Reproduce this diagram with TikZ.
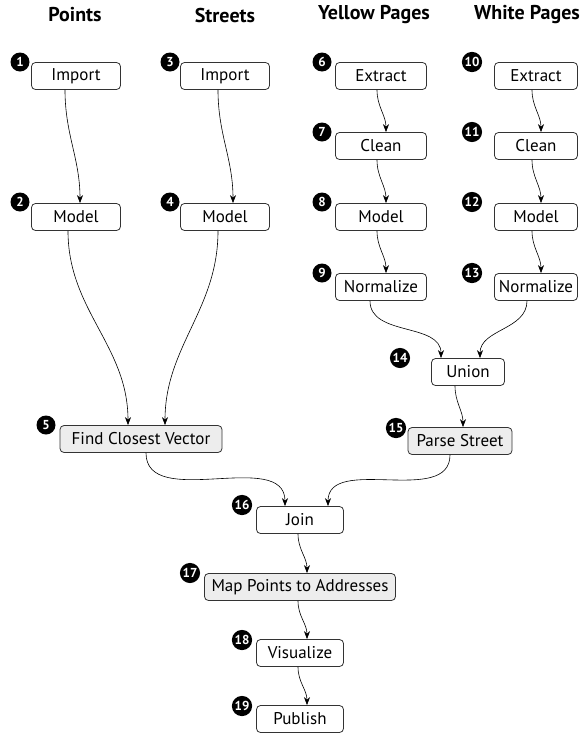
\documentclass[tikz,border=0pt]{standalone}
\usepackage{fontspec}
\setmainfont{PT Sans}
\usepackage{tikz}
\usetikzlibrary{arrows.meta}
\definecolor{boxline}{HTML}{333333}
\tikzstyle{job} = [draw=boxline, thick, rounded corners=4pt, fill=white, minimum height=27pt, inner sep=2pt, font={\fontsize{17}{19}\selectfont}]
\tikzstyle{udf} = [job, fill=black!7]
\tikzstyle{num} = [circle, fill=black, text=white, inner sep=1pt, minimum size=19pt, font={\fontsize{13}{13}\selectfont\bfseries}]
\tikzstyle{head} = [font={\fontsize{20}{22}\selectfont\bfseries}]
\tikzstyle{flow} = [-{Stealth[length=8pt,width=6pt]}, semithick, black]

\begin{document}
\begin{tikzpicture}[x=1pt,y=1pt]
    \useasboundingbox (0,0) rectangle (580,-734);
    \node[head](h1) at (75,-15){Points};
    \node[head](h2) at (225,-15){Streets};
    \node[head](h3) at (374,-15){Yellow Pages};
    \node[head](h4) at (527,-15){White Pages};
    % points
    \node[job,minimum width=89pt](1) at (76,-76){Import};
    \node[job,minimum width=89pt](2) at (76,-217){Model};
    % streets
    \node[job,minimum width=89pt](3) at (225,-76){Import};
    \node[job,minimum width=89pt](4) at (225,-217){Model};
    \node[udf,minimum width=162pt](5) at (141,-439){Find Closest Vector};
    % yellow pages
    \node[job,minimum width=91pt](6) at (381,-76){Extract};
    \node[job,minimum width=91pt](7) at (381,-146){Clean};
    \node[job,minimum width=91pt](8) at (381,-217){Model};
    \node[job,minimum width=91pt](9) at (381,-287){Normalize};
    % white pages
    \node[job,minimum width=83pt](10) at (536,-76){Extract};
    \node[job,minimum width=83pt](11) at (536,-146){Clean};
    \node[job,minimum width=83pt](12) at (536,-217){Model};
    \node[job,minimum width=83pt](13) at (536,-287){Normalize};
    \node[job,minimum width=73pt](14) at (468,-372){Union};
    \node[udf,minimum width=104pt](15) at (460,-441){Parse Street};
    % merged
    \node[job,minimum width=87pt](16) at (300,-520){Join};
    \node[udf,minimum width=191pt](17) at (300,-587){Map Points to Addresses};
    \node[job,minimum width=87pt](18) at (300,-653){Visualize};
    \node[job,minimum width=87pt](19) at (300,-719){Publish};
    % step numbers
    \foreach \n/\x/\y in {1/20/62, 2/20/202, 3/170/62, 4/170/202, 5/46/425,
        6/322/62, 7/322/132, 8/322/202, 9/322/273,
        10/472/62, 11/472/132, 12/472/202, 13/472/273,
        14/400/358, 15/396/428, 16/242/505, 17/190/573, 18/242/640, 19/242/706}
        \node[num](n\n) at (\x,-\y){\n};
    % flows
    \draw[flow]([xshift=-11pt]1.south) to[out=-90,in=90] ([xshift=4pt]2.north);
    \draw[flow]([xshift=-7pt]3.south) to[out=-90,in=90] ([xshift=8pt]4.north);
    \draw[flow]([xshift=-8pt]2.south) to[out=-90,in=90] ([xshift=-13pt]5.north);
    \draw[flow]([xshift=-7pt]4.south) to[out=-90,in=90] ([xshift=24pt]5.north);
    \foreach \a/\b in {6/7, 7/8, 8/9, 10/11, 11/12, 12/13}
        \draw[flow]([xshift=-4pt]\a.south) to[out=-90,in=90] ([xshift=5pt]\b.north);
    \draw[flow]([xshift=-11pt]9.south) to[out=-90,in=90] ([xshift=-27pt]14.north);
    \draw[flow]([xshift=-9pt]13.south) to[out=-90,in=90] ([xshift=12pt]14.north);
    \draw[flow]([xshift=-13pt]14.south) to[out=-90,in=90] ([xshift=3pt]15.north);
    \draw[flow]([xshift=5pt]5.south) to[out=-90,in=90] ([xshift=-15pt]16.north);
    \draw[flow]([xshift=-10pt]15.south) to[out=-90,in=90] ([xshift=28pt]16.north);
    \draw[flow]([xshift=-2pt]16.south) to[out=-90,in=90] ([xshift=7pt]17.north);
    \draw[flow]([xshift=-2pt]17.south) to[out=-90,in=90] ([xshift=7pt]18.north);
    \draw[flow]([xshift=-2pt]18.south) to[out=-90,in=90] ([xshift=7pt]19.north);
\end{tikzpicture}
\end{document}
